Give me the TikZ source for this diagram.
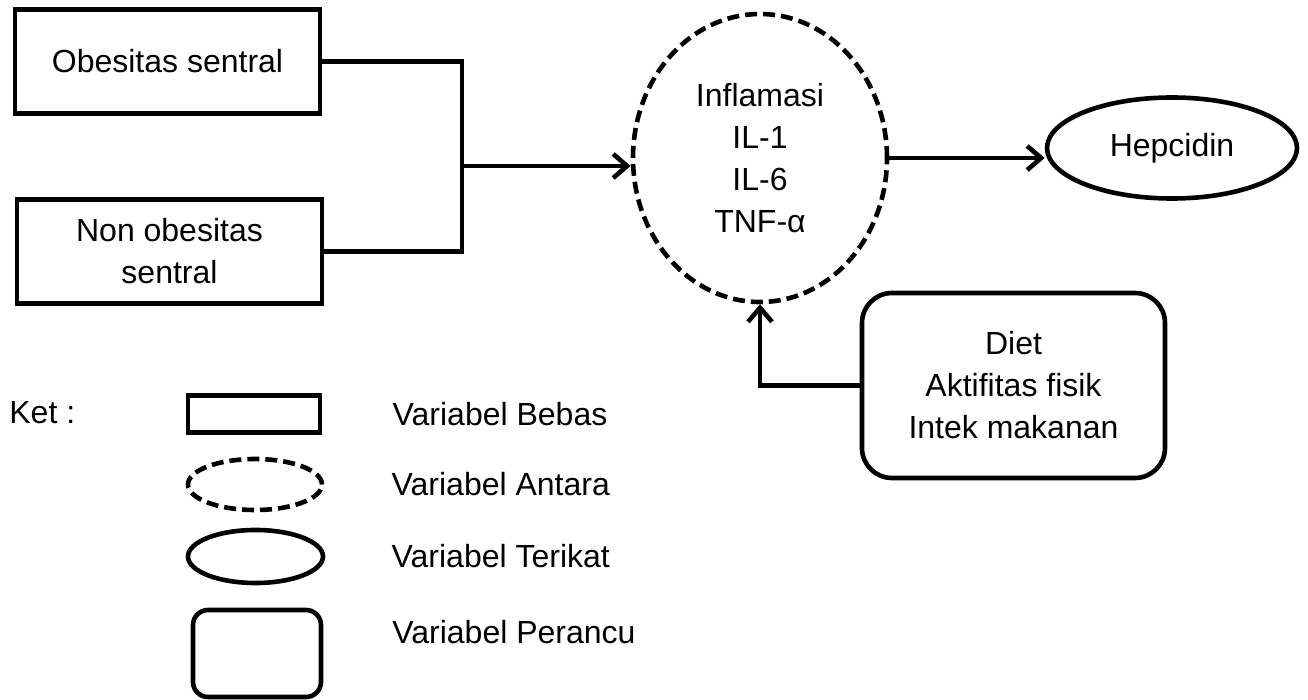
\documentclass[tikz,border=0pt]{standalone}
\usepackage{fontspec}
\setmainfont{Liberation Sans}
\usetikzlibrary{shapes.geometric, positioning, arrows.meta}
\tikzset{
    every node/.style={font=\fontsize{16}{21}\selectfont, align=center}, % all text in one size
    bebas/.style={draw, line width=2.3pt, minimum width=152.5pt, minimum height=52pt}, % independent variable
    antara/.style={ellipse, draw, line width=2.3pt, dash pattern=on 6pt off 3pt, inner sep=0pt}, % intermediate variable
    terikat/.style={ellipse, draw, line width=2.3pt, inner sep=0pt}, % dependent variable
    perancu/.style={draw, line width=2.3pt, rounded corners=15pt}, % confounding variable
    link/.style={line width=2.3pt}, % connector lines
    arr/.style={link, -{Straight Barb[length=7pt, width=12pt]}}, % connector with open arrow head
    keytext/.style={inner sep=0pt, anchor=west}, % legend labels
}

\begin{document}
\begin{tikzpicture}[x=0.5pt, y=-0.5pt]
    \useasboundingbox (0,0) rectangle (1308,700);
    \node[bebas] (obes) at (167.5,61.5) {Obesitas sentral};
    \node[bebas] (nonobes) at (169.5,251.5) {Non obesitas\\sentral};
    \node[antara, minimum width=127pt, minimum height=144pt] (infl) at (760,158) {Inflamasi\\IL-1\\IL-6\\TNF-α};
    \node[terikat, minimum width=125pt, minimum height=50.5pt] (hep) at (1172,148) {Hepcidin};
    \node[perancu, minimum width=151.5pt, minimum height=92.5pt] (diet) at (1013.5,385.5) {Diet\\Aktifitas fisik\\Intek makanan};
    \coordinate (junc) at (462,166);
    \draw[link] (obes.east) -| (junc);
    \draw[link] (nonobes.east) -| (junc);
    \draw[arr] (junc) -- (junc -| infl.west);
    \draw[arr] (infl.east) -- (infl.east -| hep.west);
    \draw[arr] (diet.west) -| (infl.south);
    % legend
    \node[keytext] (ket) at (9,413) {Ket :};
    \node[bebas, minimum width=66pt, minimum height=18.5pt] (keyrect) at (254,414) {};
    \node[antara, minimum width=67pt, minimum height=25.5pt] (keydash) at (255,484.5) {};
    \node[terikat, minimum width=67.5pt, minimum height=26.5pt] (keyell) at (255.5,556.5) {};
    \node[perancu, rounded corners=7.5pt, minimum width=64pt, minimum height=43.5pt] (keyround) at (257,653.5) {};
    \node[keytext, right=35pt of keyrect] (lbebas) {Variabel Bebas};
    \node[keytext, right=33.5pt of keydash] (lantara) {Variabel Antara};
    \node[keytext, right=33pt of keyell] (lterikat) {Variabel Terikat};
    \node[keytext] (lperancu) at (392,632) {Variabel Perancu};
\end{tikzpicture}
\end{document}
